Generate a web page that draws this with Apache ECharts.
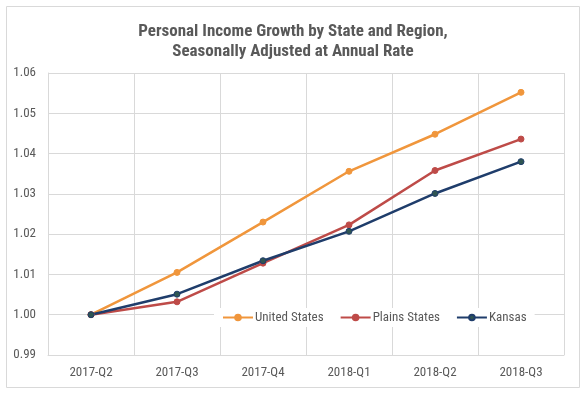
<!DOCTYPE html>
<html><head><meta charset="utf-8">
<script src="https://cdn.jsdelivr.net/npm/echarts@6/dist/echarts.min.js"></script>
<style>html,body{margin:0;padding:0;background:#fff}#c{width:586px;height:394px}</style>
</head><body><div id="c"></div>
<script>
const categories = ['2017-Q2','2017-Q3','2017-Q4','2018-Q1','2018-Q2','2018-Q3'];
const unitedStates = [1.0000, 1.0105, 1.0230, 1.0356, 1.0448, 1.0552];
const plainsStates = [1.0000, 1.0032, 1.0128, 1.0223, 1.0358, 1.0436];
const kansas = [1.0000, 1.0051, 1.0134, 1.0207, 1.0301, 1.0380];
const seriesNames = ['United States','Plains States','Kansas'];
const titleLines = ['Personal Income Growth by State and Region,','Seasonally Adjusted at Annual Rate'];

const FONT = "'Liberation Sans Narrow','Arial Narrow','Roboto Condensed',sans-serif";
const chart = echarts.init(document.getElementById('c'), null, {renderer:'canvas'});
function mk(name, data, color, mcolor){
  return {name, type:'line', data, symbol:'circle', symbolSize:6,
    lineStyle:{color, width:2.5}, itemStyle:{color:mcolor, borderColor:color, borderWidth:1}};
}
chart.setOption({
  animation:false,
  textStyle:{fontFamily:FONT},
  graphic:[{type:'rect', shape:{x:6.5,y:6.5,width:573,height:381}, style:{fill:'none', stroke:'#d9d9d9', lineWidth:1}, z:-1}],
  title:{text:titleLines.join('\n'), left:'center', top:17,
    textStyle:{fontFamily:FONT, fontSize:17, fontWeight:'bold', color:'#595959', lineHeight:20}},
  grid:{left:48, right:22, top:73, bottom:39},
  legend:{data:seriesNames, left:214, top:308, backgroundColor:'#fff', padding:[3,8,3,8], itemGap:16,
    itemWidth:30, itemHeight:7, textStyle:{fontFamily:FONT, fontSize:13, color:'#595959', padding:[0,0,0,-3]}},
  xAxis:{type:'category', data:categories, boundaryGap:true,
    axisLine:{lineStyle:{color:'#d9d9d9'}}, axisTick:{show:false},
    splitLine:{show:true, lineStyle:{color:'#d9d9d9'}},
    axisLabel:{color:'#595959', fontSize:13, margin:11, fontFamily:FONT}},
  yAxis:{type:'value', min:0.99, max:1.06, interval:0.01,
    axisLine:{show:true, lineStyle:{color:'#d9d9d9'}}, axisTick:{show:false},
    splitLine:{lineStyle:{color:'#d9d9d9'}},
    axisLabel:{color:'#595959', fontSize:13, margin:12, fontFamily:FONT, formatter:v=>v.toFixed(2)}},
  series:[
    mk(seriesNames[0], unitedStates, '#F0963C', '#F0963C'),
    mk(seriesNames[1], plainsStates, '#BE4B48', '#BE4B48'),
    mk(seriesNames[2], kansas, '#1F3D6B', '#2F5552')
  ]
});
</script></body></html>
